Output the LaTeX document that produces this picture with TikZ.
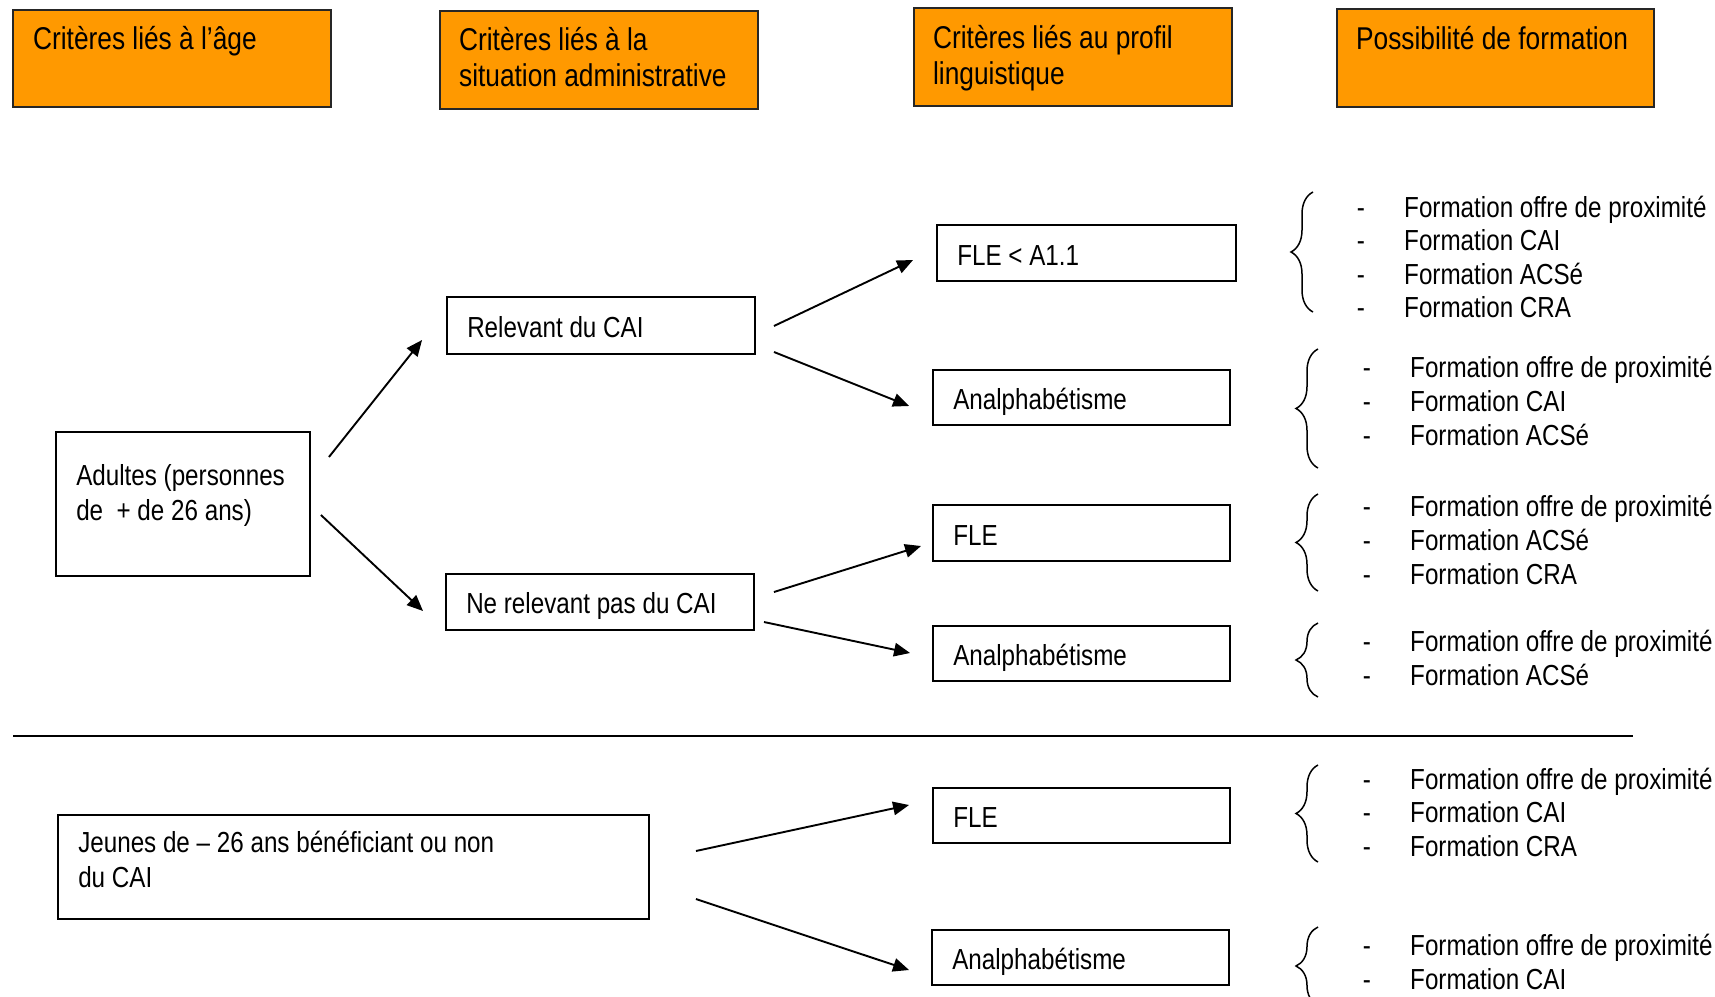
\documentclass[tikz,border=0pt]{standalone}
\usepackage{fontspec}
\setmainfont[FakeStretch=0.835]{Liberation Sans}
\usetikzlibrary{arrows.meta,calc,decorations.pathreplacing}
\definecolor{hdrorange}{RGB}{255,153,0}
\newcommand\formlist[6]{%
  \foreach \txt [count=\i] in {#6} {%
    \node[litem] (#1t\i) at (#3, {#4+#5*(\i-1)}) {\txt};
    \node[ldash] (#1d\i) at (#2, {#4+#5*(\i-1)}) {-};
  }}
\begin{document}
\begin{tikzpicture}[x=1pt,y=-1pt,
  hdrbox/.style={draw=black!85, line width=2.2pt, fill=hdrorange, inner sep=0pt},
  hdrtxt/.style={font=\fontsize{31.5}{36.5}\selectfont, align=left, anchor=north west, inner sep=0pt},
  critbox/.style={draw=black, line width=1.9pt, fill=white, inner sep=0pt},
  boxtxt/.style={font=\fontsize{29}{34.5}\selectfont, anchor=base west, inner sep=0pt},
  mltxt/.style={font=\fontsize{29}{34.5}\selectfont, align=left, anchor=north west, inner sep=0pt},
  litem/.style={font=\fontsize{29}{34}\selectfont, anchor=base west, inner sep=0pt},
  ldash/.style={font=\fontsize{29}{34}\selectfont, anchor=base, inner sep=0pt},
  arr/.style={line width=1.9pt, -{Triangle[length=16pt,width=13.5pt]}},
  brc/.style={line width=1.5pt, decorate, decoration={brace, amplitude=22pt}},
]
\useasboundingbox (0,0) rectangle (1715,996);
\clip (0,0) rectangle (1715,996);

% headers
\node[hdrbox, minimum width=318pt, minimum height=97pt] (h1) at (172,58.5) {};
\node[hdrbox, minimum width=318pt, minimum height=98pt] (h2) at (599,60) {};
\node[hdrbox, minimum width=318pt, minimum height=98pt] (h3) at (1073,57) {};
\node[hdrbox, minimum width=317pt, minimum height=98pt] (h4) at (1495.5,58) {};
\node[hdrtxt] (h1t) at ($(h1.north west)+(21,12)$) {\rule{0pt}{28pt}Critères liés à l’âge};
\node[hdrtxt] (h2t) at ($(h2.north west)+(20,12)$) {\rule{0pt}{28pt}Critères liés à la\\situation administrative};
\node[hdrtxt] (h3t) at ($(h3.north west)+(20,13)$) {\rule{0pt}{28pt}Critères liés au profil\\linguistique};
\node[hdrtxt] (h4t) at ($(h4.north west)+(20,13)$) {\rule{0pt}{28pt}Possibilité de formation};

% boxes
\node[critbox, minimum width=299pt, minimum height=56pt] (fle1) at (1086.5,253) {};
\node[critbox, minimum width=308pt, minimum height=57pt] (rel) at (601,325.5) {};
\node[critbox, minimum width=297pt, minimum height=55pt] (an1) at (1081.5,397.5) {};
\node[critbox, minimum width=254pt, minimum height=144pt] (adult) at (183,504) {};
\node[critbox, minimum width=297pt, minimum height=56pt] (fle2) at (1081.5,533) {};
\node[critbox, minimum width=308pt, minimum height=56pt] (nrel) at (600,602) {};
\node[critbox, minimum width=297pt, minimum height=55pt] (an2) at (1081.5,653.5) {};
\node[critbox, minimum width=591pt, minimum height=104pt] (jeunes) at (353.5,867) {};
\node[critbox, minimum width=297pt, minimum height=55pt] (fle3) at (1081.5,815.5) {};
\node[critbox, minimum width=297pt, minimum height=55pt] (an3) at (1080.5,957.5) {};

\node[boxtxt] (fle1t) at ($(fle1.west)+(21,12)$) {FLE < A1.1};
\node[boxtxt] (relt) at ($(rel.west)+(21,12)$) {Relevant du CAI};
\node[boxtxt] (an1t) at ($(an1.west)+(21,11.5)$) {Analphabétisme};
\node[boxtxt] (fle2t) at ($(fle2.west)+(21,12)$) {FLE};
\node[boxtxt] (nrelt) at ($(nrel.west)+(21,11.5)$) {Ne relevant pas du CAI};
\node[boxtxt] (an2t) at ($(an2.west)+(21,11.5)$) {Analphabétisme};
\node[boxtxt] (fle3t) at ($(fle3.west)+(21,11.5)$) {FLE};
\node[boxtxt] (an3t) at ($(an3.west)+(21,11.5)$) {Analphabétisme};
\node[mltxt] (adultt) at ($(adult.north west)+(21,28.4)$) {\rule{0pt}{26pt}Adultes (personnes\\de~ + de 26 ans)};
\node[mltxt] (jeunest) at ($(jeunes.north west)+(21,12.4)$) {\rule{0pt}{26pt}Jeunes de – 26 ans bénéficiant ou non\\du CAI};

% arrows
\draw[arr] ($(adult.east)+(18,-47)$) -- ($(rel.west)+(-24,14.5)$);
\draw[arr] ($(adult.east)+(10,11)$) -- ($(nrel.west)+(-22,9)$);
\draw[arr] ($(rel.east)+(18,0.5)$) -- ($(fle1.west)+(-23,7)$);
\draw[arr] ($(rel.east)+(18,26.5)$) -- ($(an1.west)+(-23,8.5)$);
\draw[arr] ($(nrel.east)+(19,-10)$) -- ($(fle2.west)+(-11,13)$);
\draw[arr] ($(nrel.east)+(9,20)$) -- ($(an2.west)+(-22,-0.5)$);
\draw[arr] ($(jeunes.east)+(46,-16)$) -- ($(fle3.west)+(-23,-10.5)$);
\draw[arr] ($(jeunes.east)+(46,32)$) -- ($(an3.west)+(-22,12.5)$);

% separator
\draw[line width=1.5pt] (13,736) -- (1633,736);

% braces
\draw[brc] (1313,312) -- (1313,192);
\draw[brc] (1318,468) -- (1318,349);
\draw[brc] (1318,591) -- (1318,494);
\draw[brc] (1318,697) -- (1318,623);
\draw[brc] (1318,862) -- (1318,765);
\draw[brc] (1318,1005) -- (1318,927);

% lists
\formlist{ga}{1361}{1404}{217}{33.5}{Formation offre de proximité,Formation CAI,Formation ACSé,Formation CRA}
\formlist{gb}{1367}{1410}{377}{34}{Formation offre de proximité,Formation CAI,Formation ACSé}
\formlist{gc}{1367}{1410}{516.5}{34}{Formation offre de proximité,Formation ACSé,Formation CRA}
\formlist{gd}{1367}{1410}{651}{34}{Formation offre de proximité,Formation ACSé}
\formlist{ge}{1367}{1410}{789}{33.5}{Formation offre de proximité,Formation CAI,Formation CRA}
\formlist{gf}{1367}{1410}{955}{34}{Formation offre de proximité,Formation CAI}
\end{tikzpicture}
\end{document}
